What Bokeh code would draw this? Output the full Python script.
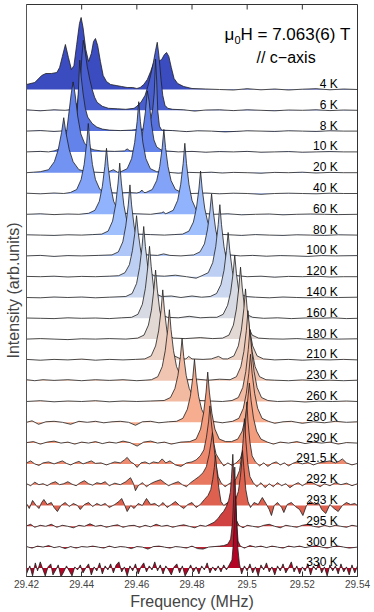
from bokeh.plotting import figure
from bokeh.models import ColumnDataSource, FixedTicker, Label
from bokeh.core.properties import value
from bokeh.embed import file_html
from bokeh.resources import INLINE

# ---------------- data (frequency in MHz, intensity in arb. units) ----------------
temps = ["4 K", "6 K", "8 K", "10 K", "20 K", "40 K", "60 K", "80 K", "100 K", "120 K",
         "140 K", "160 K", "180 K", "210 K", "230 K", "260 K", "280 K", "290 K",
         "291.5 K", "292 K", "293 K", "295 K", "300 K", "330 K"]

x_ticks = [29.42, 29.44, 29.46, 29.48, 29.50, 29.52, 29.54]
x_tick_labels = ["29.42", "29.44", "29.46", "29.48", "29.5", "29.52", "29.54"]

spec_4K = [(29.4200,5),(29.4230,7),(29.4255,14),(29.4270,16),(29.4290,16),(29.4310,17),(29.4320,22),(29.4330,33),(29.4341,45),(29.4352,32),(29.4363,20),(29.4372,24),(29.4382,45),(29.4392,66),(29.4398,72),(29.4405,62),(29.4415,40),(29.4425,28),(29.4435,36),(29.4443,48),(29.4450,51),(29.4458,44),(29.4468,28),(29.4478,14),(29.4490,8),(29.4505,5),(29.4525,4),(29.4545,3),(29.4565,2),(29.4585,2),(29.4600,1),(29.4612,2),(29.4625,5),(29.4638,10),(29.4650,18),(29.4660,26),(29.4668,30),(29.4678,28),(29.4690,30),(29.4700,35),(29.4708,37),(29.4716,33),(29.4725,22),(29.4735,11),(29.4748,6),(29.4770,3),(29.4800,1),(29.4850,0.5),(29.4900,0),(29.4950,-0.5),(29.5000,0.8),(29.5050,-0.3),(29.5100,0.5),(29.5150,-0.5),(29.5200,0.3),(29.5250,0.8),(29.5300,-0.3),(29.5350,0.5),(29.5400,0)]
spec_6K = [(29.4200,0.5),(29.4250,-0.5),(29.4300,0.5),(29.4340,0),(29.4370,1),(29.4385,8),(29.4395,30),(29.4401,55),(29.4406,70),(29.4412,60),(29.4420,44),(29.4430,30),(29.4438,21),(29.4447,13),(29.4456,8),(29.4475,4),(29.4497,2),(29.4530,1.5),(29.4560,1),(29.4590,2),(29.4600,4),(29.4607,6),(29.4615,8),(29.4630,15),(29.4640,24),(29.4650,35),(29.4660,48),(29.4668,60),(29.4674,68),(29.4680,55),(29.4688,30),(29.4694,15),(29.4702,5),(29.4712,2),(29.4730,1),(29.4770,0.5),(29.4810,-0.8),(29.4850,0.3),(29.4900,0.5),(29.4950,-0.3),(29.5000,0.5),(29.5050,0),(29.5100,-0.5),(29.5150,0.3),(29.5200,0),(29.5250,0.5),(29.5300,-0.3),(29.5350,0.3),(29.5400,0)]
spec_8K = [(29.4200,0),(29.4250,0.5),(29.4300,-0.3),(29.4340,0.3),(29.4360,0.5),(29.4375,4),(29.4383,15),(29.4388,40),(29.4393,71),(29.4398,55),(29.4405,38),(29.4413,23),(29.4422,14),(29.4438,7.7),(29.4455,4),(29.4475,2),(29.4500,1),(29.4540,0.5),(29.4580,1),(29.4620,2),(29.4635,4),(29.4645,8),(29.4652,14),(29.4658,23),(29.4663,38),(29.4668,72),(29.4672,50),(29.4676,20),(29.4682,5),(29.4690,1),(29.4730,0.5),(29.4780,-0.5),(29.4820,0.3),(29.4870,0),(29.4920,-0.8),(29.4960,-0.3),(29.5000,0.3),(29.5050,0),(29.5100,-0.3),(29.5150,0.3),(29.5200,0),(29.5250,-0.3),(29.5300,0.3),(29.5350,0),(29.5400,0)]
spec_10K = [(29.4200,0),(29.4250,0.5),(29.4280,0),(29.4300,1),(29.4320,3),(29.4332,7),(29.4343,15),(29.4352,35),(29.4362,58),(29.4369,70),(29.4376,58),(29.4386,35),(29.4397,18),(29.4410,9),(29.4425,4),(29.4445,2),(29.4470,1),(29.4520,0.5),(29.4555,1),(29.4565,3),(29.4575,1),(29.4590,1),(29.4603,3),(29.4613,7),(29.4621,20),(29.4631,40),(29.4638,61),(29.4645,50),(29.4653,28),(29.4662,12),(29.4672,5),(29.4688,2),(29.4705,1),(29.4750,0),(29.4800,0.5),(29.4850,-0.3),(29.4900,0.3),(29.4950,0),(29.5000,0.5),(29.5050,-0.3),(29.5100,0),(29.5150,0.3),(29.5200,-0.3),(29.5250,0),(29.5300,0.3),(29.5350,0),(29.5400,0)]
spec_20K = [(29.4200,0),(29.4225,0.5),(29.4250,1),(29.4280,3),(29.4301,11),(29.4315,23),(29.4327,40),(29.4335,55),(29.4343,40),(29.4355,23),(29.4369,11),(29.4390,3),(29.4420,1),(29.4450,0.5),(29.4490,0),(29.4515,3),(29.4530,0.5),(29.4542,1),(29.4565,4),(29.4581,14),(29.4592,30),(29.4601,51),(29.4607,71),(29.4613,51),(29.4622,30),(29.4633,14),(29.4649,4),(29.4672,1),(29.4710,0.5),(29.4750,-0.5),(29.4790,0.3),(29.4830,0),(29.4870,0.5),(29.4910,-0.3),(29.4950,0.3),(29.5000,0),(29.5050,-0.5),(29.5100,0.3),(29.5150,0),(29.5200,0.5),(29.5250,-0.3),(29.5300,0.3),(29.5350,0),(29.5400,0)]
spec_40K = [(29.4200,0.3),(29.4250,-0.3),(29.4300,0.5),(29.4335,0),(29.4359,1),(29.4382,4),(29.4398,14),(29.4409,29),(29.4418,50),(29.4424,70),(29.4430,50),(29.4439,29),(29.4450,14),(29.4466,4),(29.4489,1),(29.4530,0.5),(29.4570,1),(29.4600,0.5),(29.4612,1.5),(29.4618,3.5),(29.4626,1),(29.4633,1),(29.4656,4),(29.4672,13),(29.4683,27),(29.4692,46),(29.4698,64),(29.4704,46),(29.4713,27),(29.4724,13),(29.4740,4),(29.4763,1),(29.4800,0),(29.4850,0.5),(29.4900,-0.3),(29.4950,0.3),(29.5000,0),(29.5050,-0.8),(29.5100,0),(29.5150,0.3),(29.5200,0),(29.5250,-0.3),(29.5300,0.3),(29.5350,0),(29.5400,0)]
spec_60K = [(29.4200,0),(29.4250,0.5),(29.4300,-0.3),(29.4350,0.3),(29.4390,0),(29.4425,1),(29.4448,4),(29.4464,13),(29.4475,28),(29.4484,48),(29.4490,66),(29.4496,48),(29.4505,28),(29.4516,13),(29.4532,4),(29.4555,1),(29.4600,0.5),(29.4650,0),(29.4690,1.5),(29.4697,2.5),(29.4703,0.5),(29.4709,1),(29.4732,4),(29.4748,14),(29.4759,30),(29.4768,51),(29.4774,71),(29.4780,51),(29.4789,30),(29.4800,14),(29.4816,4),(29.4839,1),(29.4880,0),(29.4930,0.5),(29.4980,-0.5),(29.5030,0),(29.5080,0.3),(29.5130,-0.5),(29.5180,0),(29.5230,0.3),(29.5280,0),(29.5330,-0.3),(29.5400,0)]
spec_80K = [(29.4200,0.3),(29.4250,0),(29.4300,-0.3),(29.4350,0.3),(29.4400,0),(29.4440,0.5),(29.4473,1),(29.4496,4),(29.4512,14),(29.4523,30),(29.4532,52),(29.4538,72),(29.4544,52),(29.4553,30),(29.4564,14),(29.4580,4),(29.4603,1),(29.4650,0.5),(29.4700,0),(29.4735,0.5),(29.4766,1),(29.4789,4),(29.4805,13),(29.4816,27),(29.4825,46),(29.4831,64),(29.4837,46),(29.4846,27),(29.4857,13),(29.4873,4),(29.4896,1),(29.4935,0.3),(29.4980,-0.3),(29.5030,0.5),(29.5080,0),(29.5130,-0.3),(29.5180,0.3),(29.5230,0),(29.5280,-0.3),(29.5330,0.3),(29.5400,0)]
spec_100K = [(29.4200,0),(29.4250,0.5),(29.4300,-0.5),(29.4350,0.3),(29.4400,0),(29.4460,0.5),(29.4510,1),(29.4533,4),(29.4549,14),(29.4560,30),(29.4569,51),(29.4575,71),(29.4581,51),(29.4590,30),(29.4601,14),(29.4617,4),(29.4640,1),(29.4675,0.5),(29.4697,2),(29.4720,0.5),(29.4760,0),(29.4806,1),(29.4829,4),(29.4845,12),(29.4856,26),(29.4865,45),(29.4871,62),(29.4877,45),(29.4886,26),(29.4897,12),(29.4913,4),(29.4936,1),(29.4975,0),(29.5020,0.5),(29.5070,-0.3),(29.5120,0.3),(29.5170,0),(29.5220,-0.5),(29.5270,0.3),(29.5320,0),(29.5400,0.3)]
spec_120K = [(29.4200,0.3),(29.4250,0),(29.4300,0.5),(29.4350,-0.3),(29.4400,0.3),(29.4450,0),(29.4500,0.5),(29.4534,1),(29.4557,4),(29.4573,12),(29.4584,26),(29.4593,44),(29.4599,61),(29.4605,44),(29.4614,26),(29.4625,12),(29.4641,4),(29.4664,1),(29.4700,0.5),(29.4740,1.5),(29.4780,0),(29.4815,-1.5),(29.4836,1),(29.4859,4),(29.4875,14),(29.4886,30),(29.4895,52),(29.4901,72),(29.4907,52),(29.4916,30),(29.4927,14),(29.4943,4),(29.4966,1),(29.5000,0),(29.5050,0.5),(29.5100,-0.5),(29.5150,0.3),(29.5200,0),(29.5250,0.5),(29.5300,-0.3),(29.5350,0),(29.5400,0)]
spec_140K = [(29.4200,0),(29.4250,-0.3),(29.4300,0.5),(29.4350,0),(29.4400,0.5),(29.4450,-0.3),(29.4500,0.3),(29.4560,1),(29.4583,4),(29.4599,14),(29.4610,30),(29.4619,51),(29.4625,71),(29.4631,51),(29.4640,30),(29.4651,14),(29.4667,4),(29.4690,1),(29.4725,1.5),(29.4760,0),(29.4800,1.5),(29.4835,0.3),(29.4866,1),(29.4889,4),(29.4905,13),(29.4916,27),(29.4925,47),(29.4931,65),(29.4937,47),(29.4946,27),(29.4957,13),(29.4973,4),(29.4996,1),(29.5030,0.3),(29.5080,-0.3),(29.5130,0.5),(29.5180,0),(29.5230,-0.3),(29.5280,0.3),(29.5330,0),(29.5400,0.3)]
spec_160K = [(29.4200,0.3),(29.4250,0),(29.4300,-0.3),(29.4350,0.5),(29.4400,0),(29.4450,0.3),(29.4500,-0.3),(29.4545,0.5),(29.4581,1),(29.4604,4),(29.4620,14),(29.4631,30),(29.4640,52),(29.4646,72),(29.4652,52),(29.4661,30),(29.4672,14),(29.4688,4),(29.4711,1),(29.4750,0.5),(29.4790,2),(29.4830,0.5),(29.4865,1),(29.4890,1),(29.4913,4),(29.4929,13),(29.4940,26),(29.4949,45),(29.4955,63),(29.4961,45),(29.4970,26),(29.4981,13),(29.4997,4),(29.5020,1),(29.5060,0),(29.5110,0.5),(29.5160,-0.3),(29.5210,0.3),(29.5260,0),(29.5310,0.5),(29.5360,-0.3),(29.5400,0)]
spec_180K = [(29.4200,0),(29.4250,0.5),(29.4300,0),(29.4350,-0.5),(29.4400,0.3),(29.4450,0),(29.4500,0.5),(29.4560,0),(29.4603,1),(29.4626,4),(29.4642,14),(29.4653,29),(29.4662,50),(29.4668,69),(29.4674,50),(29.4683,29),(29.4694,14),(29.4710,4),(29.4733,1),(29.4775,0.5),(29.4830,1.5),(29.4875,0.5),(29.4911,1),(29.4934,4),(29.4950,14),(29.4961,30),(29.4970,52),(29.4976,72),(29.4982,52),(29.4991,30),(29.5002,14),(29.5018,4),(29.5041,1),(29.5080,0.3),(29.5130,0),(29.5180,0.5),(29.5230,-0.3),(29.5280,0.3),(29.5330,0),(29.5400,0.3)]
spec_210K = [(29.4200,0.5),(29.4250,-0.3),(29.4300,0.5),(29.4350,0),(29.4400,0.8),(29.4450,-0.3),(29.4500,0.5),(29.4550,0),(29.4595,0.5),(29.4629,1),(29.4652,4),(29.4668,14),(29.4679,29),(29.4688,50),(29.4694,70),(29.4700,50),(29.4709,29),(29.4720,14),(29.4736,4),(29.4759,1),(29.4778,1),(29.4788,3.5),(29.4800,1),(29.4840,0.5),(29.4870,1),(29.4896,3.5),(29.4912,1),(29.4929,1),(29.4952,4),(29.4968,14),(29.4979,30),(29.4988,51),(29.4994,71),(29.5000,51),(29.5009,30),(29.5020,14),(29.5036,4),(29.5059,1),(29.5100,0),(29.5150,0.5),(29.5200,-0.3),(29.5250,0.3),(29.5300,0),(29.5350,0.5),(29.5400,0)]
spec_230K = [(29.4200,1),(29.4230,0),(29.4260,1),(29.4300,0.3),(29.4350,1),(29.4400,0),(29.4450,1),(29.4500,0.3),(29.4550,1),(29.4600,0),(29.4630,0.5),(29.4653,1),(29.4676,4),(29.4692,14),(29.4703,30),(29.4712,51),(29.4718,71),(29.4724,51),(29.4733,30),(29.4744,14),(29.4760,4),(29.4783,1),(29.4820,1.5),(29.4860,0.5),(29.4900,1.5),(29.4938,1),(29.4961,4),(29.4977,14),(29.4988,29),(29.4997,50),(29.5003,70),(29.5009,50),(29.5018,29),(29.5029,14),(29.5045,4),(29.5068,1),(29.5100,0.5),(29.5150,0),(29.5200,0.8),(29.5250,0),(29.5300,0.5),(29.5350,0),(29.5400,0.5)]
spec_260K = [(29.4200,0),(29.4250,0.8),(29.4300,-0.3),(29.4350,0.5),(29.4400,0),(29.4450,0.8),(29.4500,-0.3),(29.4550,0.5),(29.4600,0),(29.4650,0.5),(29.4699,1),(29.4722,4),(29.4738,13),(29.4749,26),(29.4758,45),(29.4764,63),(29.4770,45),(29.4779,26),(29.4790,13),(29.4806,4),(29.4829,1),(29.4870,0.5),(29.4910,0),(29.4945,1),(29.4968,4),(29.4984,14),(29.4995,30),(29.5004,52),(29.5010,72),(29.5016,52),(29.5025,30),(29.5036,14),(29.5052,4),(29.5075,1),(29.5110,0),(29.5160,0.5),(29.5210,-0.5),(29.5260,0.3),(29.5310,0),(29.5360,0.5),(29.5400,0)]
spec_280K = [(29.4200,0),(29.4220,1.5),(29.4244,-2),(29.4270,0.5),(29.4300,1),(29.4330,0),(29.4360,-2),(29.4390,1),(29.4420,0),(29.4450,1),(29.4480,-0.5),(29.4510,0.5),(29.4540,1),(29.4570,0),(29.4595,-3),(29.4620,0.5),(29.4650,1),(29.4680,-0.5),(29.4715,0.5),(29.4744,1),(29.4767,4),(29.4783,13),(29.4794,26),(29.4803,45),(29.4809,63),(29.4815,45),(29.4824,26),(29.4835,13),(29.4851,4),(29.4874,1),(29.4910,-0.5),(29.4947,1),(29.4970,4),(29.4986,14),(29.4997,29),(29.5006,49),(29.5012,68),(29.5018,49),(29.5027,29),(29.5038,14),(29.5054,4),(29.5077,1),(29.5100,-1),(29.5130,0.5),(29.5160,1),(29.5200,-1),(29.5240,0.5),(29.5280,-0.5),(29.5320,1),(29.5360,0),(29.5400,0.5)]
spec_290K = [(29.4200,0.5),(29.4225,1.5),(29.4250,-1),(29.4275,1),(29.4300,2),(29.4325,0),(29.4350,1),(29.4375,-1),(29.4400,1),(29.4425,0),(29.4450,1.5),(29.4475,-0.5),(29.4500,1),(29.4525,0),(29.4550,2),(29.4575,0.5),(29.4601,-3),(29.4625,1),(29.4650,2),(29.4675,0),(29.4700,1),(29.4725,-1),(29.4760,1),(29.4792,1.5),(29.4815,4),(29.4831,14),(29.4842,30),(29.4851,51),(29.4857,71),(29.4863,51),(29.4872,30),(29.4883,14),(29.4899,4),(29.4922,1.5),(29.4943,1.5),(29.4966,4),(29.4982,12),(29.4993,25),(29.5002,43),(29.5008,60),(29.5014,43),(29.5023,25),(29.5034,12),(29.5050,4),(29.5073,1),(29.5095,-1),(29.5120,1),(29.5150,0),(29.5180,1.5),(29.5210,-0.5),(29.5240,1),(29.5270,0),(29.5300,1),(29.5330,-1),(29.5360,0.5),(29.5400,0)]
spec_291p5K = [(29.4200,1),(29.4215,3),(29.4230,0),(29.4245,-1.5),(29.4260,1),(29.4280,2),(29.4300,0),(29.4315,1.5),(29.4330,3),(29.4345,0.5),(29.4360,-1),(29.4375,1),(29.4390,2.5),(29.4405,0),(29.4420,1.5),(29.4435,3),(29.4450,0.5),(29.4470,1),(29.4490,-1),(29.4505,0.5),(29.4520,2),(29.4540,1),(29.4555,4),(29.4565,6.5),(29.4578,2),(29.4590,0),(29.4601,-3.5),(29.4615,1),(29.4630,2),(29.4645,0),(29.4660,2),(29.4678,1),(29.4692,5),(29.4705,1),(29.4720,3),(29.4740,-1),(29.4760,-2.5),(29.4780,1),(29.4800,2),(29.4815,4),(29.4830,8),(29.4843,14),(29.4852,26),(29.4860,42),(29.4865,58),(29.4870,42),(29.4878,22),(29.4887,10),(29.4900,4),(29.4915,-2),(29.4930,1),(29.4945,-1.5),(29.4960,1),(29.4975,5),(29.4985,14),(29.4991,28),(29.4995,45),(29.4999,62),(29.5003,42),(29.5010,22),(29.5018,8),(29.5030,2),(29.5045,-2),(29.5060,1),(29.5075,-2.5),(29.5090,0.5),(29.5105,2),(29.5120,-1),(29.5135,1),(29.5150,-2),(29.5165,0.5),(29.5180,2),(29.5200,0),(29.5220,1.5),(29.5240,-1),(29.5260,1),(29.5280,2),(29.5300,3),(29.5320,1),(29.5335,3),(29.5345,5),(29.5360,1),(29.5380,-1),(29.5400,0.5)]
spec_292K = [(29.4200,1),(29.4215,-1),(29.4230,2.5),(29.4245,0),(29.4260,1),(29.4275,-1),(29.4290,1.5),(29.4305,3),(29.4320,0),(29.4335,1),(29.4350,3),(29.4365,0.5),(29.4380,-1),(29.4395,2),(29.4410,4),(29.4425,1),(29.4440,-0.5),(29.4455,2),(29.4470,1),(29.4485,3),(29.4500,-1),(29.4520,1.5),(29.4540,0),(29.4560,3),(29.4577,7),(29.4588,1),(29.4595,-6),(29.4605,-1),(29.4620,2),(29.4635,-2),(29.4650,1),(29.4665,3),(29.4686,5),(29.4700,2),(29.4715,-1),(29.4730,1),(29.4750,3),(29.4765,0),(29.4780,-2),(29.4795,2),(29.4810,5),(29.4825,8),(29.4840,12),(29.4852,18),(29.4862,30),(29.4869,42),(29.4874,52),(29.4879,40),(29.4886,22),(29.4895,8),(29.4905,2),(29.4920,-2),(29.4935,1),(29.4950,3),(29.4960,6),(29.4972,14),(29.4980,28),(29.4986,46),(29.4990,66),(29.4995,45),(29.5002,22),(29.5010,8),(29.5022,2),(29.5035,-2),(29.5050,2),(29.5065,-3),(29.5080,1),(29.5095,-2),(29.5110,2),(29.5125,-1),(29.5140,1),(29.5155,-3),(29.5170,0),(29.5185,2),(29.5200,-1),(29.5215,1.5),(29.5230,3),(29.5250,0),(29.5265,-2),(29.5280,1),(29.5300,-1),(29.5320,2),(29.5340,0),(29.5360,1.5),(29.5380,-1),(29.5400,1)]
spec_293K = [(29.4200,2),(29.4210,-3),(29.4222,5),(29.4235,0),(29.4245,-3),(29.4255,3),(29.4263,6),(29.4275,1),(29.4290,3),(29.4300,-2),(29.4312,-6),(29.4325,0),(29.4340,3),(29.4355,-1),(29.4370,2),(29.4385,0),(29.4395,-4),(29.4410,1),(29.4425,3),(29.4440,-1),(29.4455,2),(29.4470,0),(29.4485,2),(29.4500,-2),(29.4520,1),(29.4535,4),(29.4545,7),(29.4555,1),(29.4565,-6),(29.4578,0),(29.4590,-3),(29.4605,2),(29.4620,0),(29.4635,7),(29.4650,1),(29.4665,2),(29.4680,-1),(29.4695,3),(29.4710,-2),(29.4725,1),(29.4740,4),(29.4755,0),(29.4770,-3),(29.4785,1),(29.4800,3),(29.4815,-2),(29.4830,1),(29.4845,6),(29.4858,10),(29.4868,16),(29.4875,26),(29.4881,38),(29.4885,50),(29.4890,36),(29.4897,18),(29.4905,4),(29.4915,0),(29.4930,3),(29.4945,2),(29.4958,6),(29.4968,14),(29.4975,28),(29.4980,42),(29.4983,55),(29.4988,38),(29.4995,16),(29.5003,4),(29.5012,-2),(29.5025,3),(29.5040,1),(29.5055,8),(29.5068,2),(29.5080,-4),(29.5088,-10),(29.5098,0),(29.5110,3),(29.5125,-2),(29.5133,-7),(29.5145,1),(29.5160,3),(29.5175,-1),(29.5190,-4),(29.5202,-10),(29.5215,0),(29.5230,4),(29.5245,1),(29.5260,2),(29.5270,-4),(29.5285,-8),(29.5300,1),(29.5315,-3),(29.5330,-6),(29.5345,0),(29.5360,3),(29.5375,1),(29.5390,2),(29.5400,0)]
spec_295K = [(29.4200,0.5),(29.4215,2),(29.4230,-1),(29.4250,1),(29.4270,0),(29.4290,2),(29.4310,-1),(29.4330,1),(29.4350,0),(29.4370,-1.5),(29.4390,1),(29.4410,0),(29.4430,2.5),(29.4450,0),(29.4470,1),(29.4490,-1),(29.4510,0.5),(29.4530,1.5),(29.4550,-1),(29.4570,0.5),(29.4590,1),(29.4610,-1),(29.4630,1),(29.4650,-0.5),(29.4670,2),(29.4690,0),(29.4710,1),(29.4730,-1),(29.4750,0.5),(29.4770,1.5),(29.4790,0),(29.4810,-1.5),(29.4830,1),(29.4850,0),(29.4865,2),(29.4880,4),(29.4895,8),(29.4905,12),(29.4915,15),(29.4925,20),(29.4933,26),(29.4939,34),(29.4943,48),(29.4948,72),(29.4952,45),(29.4956,20),(29.4961,6),(29.4970,1),(29.4985,-1.5),(29.5000,1),(29.5020,0),(29.5040,-1),(29.5060,1),(29.5080,2),(29.5100,0),(29.5120,-1.5),(29.5140,1),(29.5160,0),(29.5180,-1),(29.5200,1),(29.5220,2),(29.5240,0),(29.5260,-1),(29.5280,1),(29.5300,-0.5),(29.5320,1),(29.5340,0),(29.5360,-1),(29.5380,1),(29.5400,0)]
spec_300K = [(29.4200,0.5),(29.4220,-1),(29.4240,1),(29.4260,0),(29.4280,1.5),(29.4300,-0.5),(29.4320,0.5),(29.4340,-1.5),(29.4360,0.5),(29.4380,-1),(29.4400,0.5),(29.4420,0),(29.4440,1),(29.4460,0),(29.4480,-1),(29.4500,1),(29.4520,-0.5),(29.4540,0.5),(29.4560,0),(29.4580,-1.5),(29.4600,0.5),(29.4620,0),(29.4640,-2),(29.4660,0.5),(29.4680,1),(29.4700,0),(29.4720,-1),(29.4740,0.5),(29.4760,0),(29.4780,-1),(29.4800,1),(29.4820,-1.5),(29.4840,-2),(29.4860,0),(29.4880,0.5),(29.4900,1),(29.4915,1.5),(29.4930,3),(29.4940,8),(29.4947,25),(29.4952,55),(29.4955,80),(29.4958,55),(29.4962,25),(29.4967,6),(29.4975,1),(29.4990,-1),(29.5010,1.5),(29.5030,0),(29.5050,1),(29.5070,-0.5),(29.5090,1),(29.5110,0),(29.5130,-1),(29.5150,1),(29.5170,0),(29.5190,1),(29.5210,-0.5),(29.5230,0.5),(29.5250,1.5),(29.5270,0),(29.5290,-1),(29.5310,0.5),(29.5330,1),(29.5350,0),(29.5370,-1),(29.5400,0)]
spec_330K = [(29.4200,-6),(29.4212,2),(29.4222,-8),(29.4232,5),(29.4240,-3),(29.4250,6),(29.4260,-2),(29.4268,-8),(29.4278,1),(29.4288,4),(29.4296,-7),(29.4306,-2),(29.4315,3),(29.4325,-9),(29.4335,-4),(29.4345,2),(29.4355,-3),(29.4365,-8),(29.4375,1),(29.4385,-2),(29.4395,3),(29.4405,-5),(29.4415,0),(29.4425,4),(29.4435,-7),(29.4445,1),(29.4455,-3),(29.4465,5),(29.4475,-6),(29.4485,2),(29.4495,-2),(29.4505,4),(29.4515,-5),(29.4525,3),(29.4535,6),(29.4545,-4),(29.4555,1),(29.4565,-8),(29.4575,2),(29.4585,-3),(29.4595,4),(29.4605,-6),(29.4615,1),(29.4625,5),(29.4635,-4),(29.4645,2),(29.4655,-2),(29.4665,6),(29.4675,-3),(29.4685,3),(29.4695,-6),(29.4705,2),(29.4715,-2),(29.4725,-7),(29.4735,1),(29.4745,4),(29.4755,-5),(29.4765,2),(29.4775,-8),(29.4785,-3),(29.4795,3),(29.4805,-4),(29.4815,1),(29.4825,-6),(29.4835,2),(29.4845,-2),(29.4855,5),(29.4865,-5),(29.4875,1),(29.4885,-3),(29.4895,2),(29.4905,-4),(29.4915,3),(29.4925,-2),(29.4935,3),(29.4945,8),(29.4950,25),(29.4955,55),(29.4958,72),(29.4961,50),(29.4966,20),(29.4972,4),(29.4980,-6),(29.4990,2),(29.5000,-3),(29.5010,4),(29.5020,-5),(29.5030,1),(29.5040,-8),(29.5050,3),(29.5060,-2),(29.5070,5),(29.5080,-4),(29.5090,1),(29.5100,-7),(29.5110,2),(29.5120,-3),(29.5130,4),(29.5140,-5),(29.5150,0),(29.5160,6),(29.5170,-4),(29.5180,2),(29.5190,-6),(29.5200,1),(29.5210,-3),(29.5220,4),(29.5230,-7),(29.5240,2),(29.5250,-2),(29.5260,5),(29.5270,-5),(29.5280,1),(29.5290,-8),(29.5300,3),(29.5310,-3),(29.5320,2),(29.5330,-6),(29.5340,4),(29.5350,-4),(29.5360,1),(29.5370,-7),(29.5380,3),(29.5390,-5),(29.5400,2)]

spectra = [spec_4K, spec_6K, spec_8K, spec_10K, spec_20K, spec_40K, spec_60K, spec_80K,
           spec_100K, spec_120K, spec_140K, spec_160K, spec_180K, spec_210K, spec_230K,
           spec_260K, spec_280K, spec_290K, spec_291p5K, spec_292K, spec_293K, spec_295K,
           spec_300K, spec_330K]

# ---------------- styling ----------------
FONT = "Liberation Sans"
SPACING = 20.8
N = len(spectra)
Y0, Y1 = -8.6, 563.4

anchors = [(0.0, "#3b4cc0"), (1 / 7, "#6788ee"), (2 / 7, "#9abbff"), (3 / 7, "#c9d7f0"),
           (0.5, "#dddcdc"), (4 / 7, "#edd1c2"), (5 / 7, "#f7a889"), (6 / 7, "#e26952"),
           (1.0, "#b40426")]


def hex2rgb(h):
    return tuple(int(h[k:k + 2], 16) for k in (1, 3, 5))


def coolwarm(t):
    for (t0, c0), (t1, c1) in zip(anchors[:-1], anchors[1:]):
        if t0 <= t <= t1:
            a = (t - t0) / (t1 - t0) if t1 > t0 else 0
            r0, r1 = hex2rgb(c0), hex2rgb(c1)
            return "#%02x%02x%02x" % tuple(round(r0[k] + a * (r1[k] - r0[k])) for k in range(3))
    return anchors[-1][1]


frame_col = "#333333"
p = figure(width=374, height=612,
           x_range=(29.42, 29.54), y_range=(Y0, Y1),
           output_backend="svg", toolbar_location=None,
           min_border_left=26, min_border_right=17, min_border_top=4, min_border_bottom=36,
           background_fill_color="white", border_fill_color="white",
           outline_line_color=frame_col, outline_line_width=1)
p.grid.visible = False

# spectra, drawn top to bottom so that lower spectra overlap upper ones
for i, spec in enumerate(spectra):
    off = (N - 1 - i) * SPACING
    xs = [f for f, v in spec]
    src = ColumnDataSource(dict(x=xs, y1=[off] * len(xs), y2=[off + v for f, v in spec]))
    p.varea(x="x", y1="y1", y2="y2", source=src, fill_color=coolwarm(i / (N - 1)), fill_alpha=1.0)
    p.line(x="x", y="y2", source=src, line_color="#1e1e1e", line_width=0.8)

# inward tick marks on the top edge of the frame
p.segment(x0=x_ticks, y0=[Y1] * len(x_ticks), x1=x_ticks, y1=[Y1 - 5] * len(x_ticks),
          line_color=frame_col, line_width=1)

# temperature labels
lab_src = ColumnDataSource(dict(x=[29.5328] * N,
                                y=[(N - 1 - i) * SPACING + 5.5 for i in range(N)],
                                t=temps))
p.text(x="x", y="y", text="t", source=lab_src, text_font=value(FONT),
       text_font_size=value("12px"), text_align="right", text_baseline="alphabetic",
       text_color="black")

# field annotation
p.add_layout(Label(x=29.49178, y=533, text="μ", text_font=FONT, text_font_size="17px",
                   text_baseline="alphabetic", text_align="left", text_color="black"))
p.add_layout(Label(x=29.4954, y=527.5, text="0", text_font=FONT, text_font_size="11px",
                   text_baseline="alphabetic", text_align="left", text_color="black"))
p.add_layout(Label(x=29.49758, y=533, text="H = 7.063(6) T", text_font=FONT,
                   text_font_size="17px", text_baseline="alphabetic", text_align="left",
                   text_color="black"))
p.add_layout(Label(x=29.5141, y=510.5, text="// c\u2212axis", text_font=FONT,
                   text_font_size="16px", text_baseline="alphabetic", text_align="center",
                   text_color="black"))

# axes
xa = p.xaxis[0]
xa.ticker = FixedTicker(ticks=x_ticks)
xa.major_label_overrides = {t: l for t, l in zip(x_ticks, x_tick_labels)}
xa.major_label_text_font = FONT
xa.major_label_text_font_size = "10px"
xa.major_label_standoff = 3
xa.major_tick_in = 5
xa.major_tick_out = 0
xa.minor_tick_line_color = None
xa.axis_line_color = frame_col
xa.major_tick_line_color = frame_col
xa.axis_label = "Frequency (MHz)"
xa.axis_label_text_font = FONT
xa.axis_label_text_font_size = "16px"
xa.axis_label_text_font_style = "normal"
xa.axis_label_standoff = 2

ya = p.yaxis[0]
ya.ticker = FixedTicker(ticks=[])
ya.major_label_standoff = 0
ya.major_tick_in = 0
ya.major_tick_out = 0
ya.minor_tick_line_color = None
ya.axis_line_color = "#555555"
ya.axis_label = "Intensity (arb.units)"
ya.axis_label_text_font = FONT
ya.axis_label_text_font_size = "16px"
ya.axis_label_text_font_style = "normal"
ya.axis_label_standoff = 5

html = file_html(p, INLINE, "NMR spectra")
open("out.html", "w").write(html)
